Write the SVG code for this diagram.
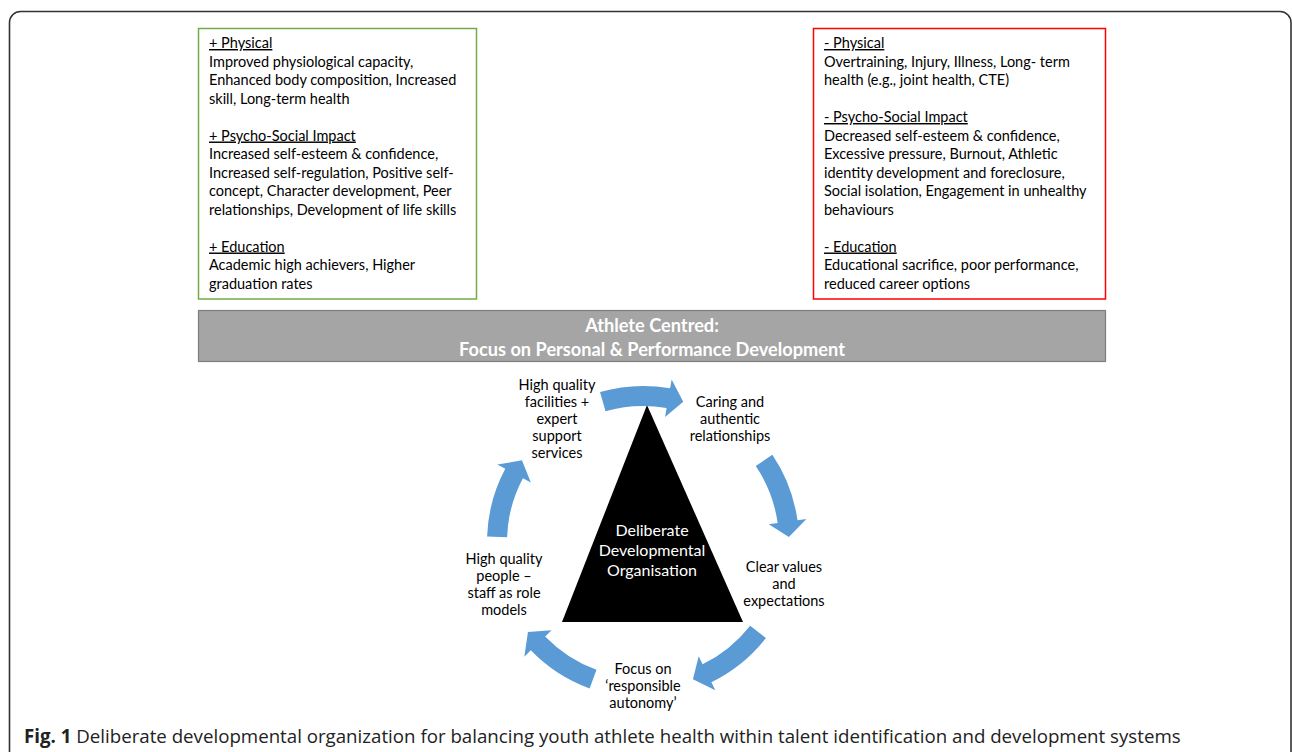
<svg xmlns="http://www.w3.org/2000/svg" xmlns:xlink="http://www.w3.org/1999/xlink" width="1292" height="752" viewBox="0 0 1292 752">
<style>
.t{font-family:Lato,"Open Sans","Liberation Sans",sans-serif;font-size:14.5px;fill:#000}
.h{text-decoration:underline}
.c{font-family:Lato,"Open Sans","Liberation Sans",sans-serif;font-size:14.5px;fill:#000;text-anchor:middle}
.w{font-family:Lato,"Open Sans","Liberation Sans",sans-serif;font-size:16px;fill:#fff;text-anchor:middle}
.wb{font-family:Lato,"Open Sans","Liberation Sans",sans-serif;font-size:18.2px;font-weight:bold;fill:#fff;text-anchor:middle}
.cap{font-family:"Open Sans","Noto Sans","Liberation Sans",sans-serif;font-size:18.7px;fill:#222}
.arrow{fill:#5b9bd5}
</style>
<defs>
<path id="arc" d="M -42.99 -149.96 A 156 156 0 0 1 27.09 -153.63 L 28.65 -162.50 L 40.24 -140.34 L 22.05 -125.08 L 23.62 -133.93 A 136 136 0 0 0 -37.49 -130.73 Z"/>
</defs>
<rect x="0" y="0" width="1292" height="752" fill="#fff"/>
<rect x="9.5" y="11.5" width="1281.5" height="760" rx="11" fill="none" stroke="#333" stroke-width="1.6"/>

<g id="positive">
<rect x="198.5" y="28.5" width="278" height="270.5" fill="#fff" stroke="#70ad47" stroke-width="1.5"/>
<text class="t"><tspan x="209" y="48" class="h">+ Physical</tspan><tspan x="209" y="66.5">Improved physiological capacity,</tspan><tspan x="209" y="85">Enhanced body composition, Increased</tspan><tspan x="209" y="103.5">skill, Long-term health</tspan><tspan x="209" y="140.5" class="h">+ Psycho-Social Impact</tspan><tspan x="209" y="159">Increased self-esteem &amp; confidence,</tspan><tspan x="209" y="177.5">Increased self-regulation, Positive self-</tspan><tspan x="209" y="196">concept, Character development, Peer</tspan><tspan x="209" y="214.5">relationships, Development of life skills</tspan><tspan x="209" y="251.5" class="h">+ Education</tspan><tspan x="209" y="270">Academic high achievers, Higher</tspan><tspan x="209" y="288.5">graduation rates</tspan></text>
</g>

<g id="negative">
<rect x="813.5" y="28.5" width="292" height="270.5" fill="#fff" stroke="#ff0000" stroke-width="1.5"/>
<text class="t"><tspan x="824" y="48" class="h">- Physical</tspan><tspan x="824" y="66.5">Overtraining, Injury, Illness, Long- term</tspan><tspan x="824" y="85">health (e.g., joint health, CTE)</tspan><tspan x="824" y="122" class="h">- Psycho-Social Impact</tspan><tspan x="824" y="140.5">Decreased self-esteem &amp; confidence,</tspan><tspan x="824" y="159">Excessive pressure, Burnout, Athletic</tspan><tspan x="824" y="177.5">identity development and foreclosure,</tspan><tspan x="824" y="196">Social isolation, Engagement in unhealthy</tspan><tspan x="824" y="214.5">behaviours</tspan><tspan x="824" y="251.5" class="h">- Education</tspan><tspan x="824" y="270">Educational sacrifice, poor performance,</tspan><tspan x="824" y="288.5">reduced career options</tspan></text>
</g>

<g id="athlete-centred">
<rect x="198.5" y="310.5" width="907" height="51" fill="#a5a5a5" stroke="#7f7f7f" stroke-width="1.2"/>
<text class="wb"><tspan x="652" y="331.5">Athlete Centred:</tspan><tspan x="652" y="355.5">Focus on Personal &amp; Performance Development</tspan></text>
</g>

<g id="organisation">
<polygon points="647,405 743,622 562,622" fill="#000"/>
<text class="w"><tspan x="652" y="535.5">Deliberate</tspan><tspan x="652" y="555.5">Developmental</tspan><tspan x="652" y="575.5">Organisation</tspan></text>
</g>

<g id="connectors">
<use xlink:href="#arc" class="arrow" transform="translate(643,542)"/>
<use xlink:href="#arc" class="arrow" transform="translate(643,542) rotate(72)"/>
<use xlink:href="#arc" class="arrow" transform="translate(643,542) rotate(144)"/>
<use xlink:href="#arc" class="arrow" transform="translate(643,542) rotate(216)"/>
<use xlink:href="#arc" class="arrow" transform="translate(643,542) rotate(288)"/>
</g>

<g id="facilities">
<text class="c"><tspan x="557" y="390">High quality</tspan><tspan x="557" y="407">facilities +</tspan><tspan x="557" y="424">expert</tspan><tspan x="557" y="441">support</tspan><tspan x="557" y="458">services</tspan></text>
</g>
<g id="caring">
<text class="c"><tspan x="730" y="407">Caring and</tspan><tspan x="730" y="424">authentic</tspan><tspan x="730" y="441">relationships</tspan></text>
</g>
<g id="values">
<text class="c"><tspan x="784" y="572">Clear values</tspan><tspan x="784" y="589">and</tspan><tspan x="784" y="606">expectations</tspan></text>
</g>
<g id="autonomy">
<text class="c"><tspan x="643" y="674">Focus on</tspan><tspan x="643" y="691">‘responsible</tspan><tspan x="643" y="708">autonomy’</tspan></text>
</g>
<g id="people">
<text class="c"><tspan x="504" y="564">High quality</tspan><tspan x="504" y="581">people –</tspan><tspan x="504" y="598">staff as role</tspan><tspan x="504" y="615">models</tspan></text>
</g>

<text class="cap" x="24" y="743"><tspan font-weight="bold">Fig. 1</tspan> Deliberate developmental organization for balancing youth athlete health within talent identification and development systems</text>
</svg>
